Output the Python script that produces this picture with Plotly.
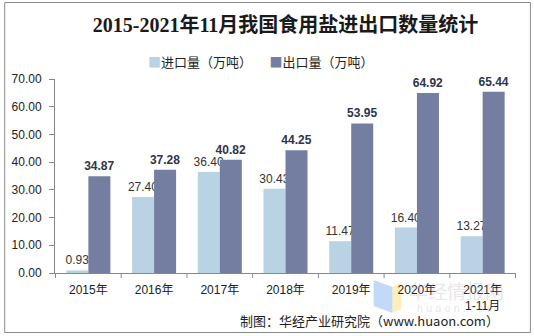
import plotly.graph_objects as go

categories = ["2015年", "2016年", "2017年", "2018年", "2019年", "2020年", "2021年<br>1-11月"]
imports = [0.93, 27.40, 36.40, 30.43, 11.47, 16.40, 13.27]
exports = [34.87, 37.28, 40.82, 44.25, 53.95, 64.92, 65.44]
yticks = [0, 10, 20, 30, 40, 50, 60, 70]
series_names = ["进口量（万吨）", "出口量（万吨）"]
colors = ["#b9d3e5", "#737ea1"]

W, H = 534, 336
L, R, T, B = 53, 18, 79, 63
pw, ph = W - L - R, H - T - B

def px(x):
    return (x - L) / pw

def py(y):
    return (H - B - y) / ph

fig = go.Figure()
fig.add_trace(go.Bar(
    name=series_names[0], x=categories, y=imports,
    marker=dict(color=colors[0], line=dict(width=0)),
    text=[f"{v:.2f}" for v in imports], textposition="outside",
    textfont=dict(family="Arial, Liberation Sans", size=12, color="#333333"),
    cliponaxis=False,
))
fig.add_trace(go.Bar(
    name=series_names[1], x=categories, y=exports,
    marker=dict(color=colors[1], line=dict(width=0)),
    text=[f"<b>{v:.2f}</b>" for v in exports], textposition="outside",
    textfont=dict(family="Arial, Liberation Sans", size=12, color="#2f3449"),
    cliponaxis=False,
))

fig.update_layout(
    width=W, height=H,
    margin=dict(l=L, r=R, t=T, b=B),
    paper_bgcolor="white", plot_bgcolor="white",
    barmode="group", bargap=0.33, bargroupgap=0,
    title=dict(text="<b>2015-2021年11月我国食用盐进出口数量统计</b>",
               x=0.5, xref="paper", xanchor="center", y=1 - 25 / H, yanchor="middle",
               font=dict(family="Liberation Serif, Noto Sans CJK SC", size=20, color="#1a1a1a")),
    showlegend=False,
    font=dict(family="Arial, Liberation Sans", size=12, color="#222222"),
    uniformtext=dict(mode="show", minsize=12),
)
fig.update_xaxes(
    showline=True, linecolor="#888888", linewidth=1,
    ticks="", showgrid=False, ticklabelstandoff=6,
    tickfont=dict(family="Arial, Liberation Sans, Noto Sans CJK SC", size=12, color="#222222"),
)
fig.update_yaxes(
    range=[0, 70], tickvals=yticks, ticktext=[f"{v:.2f}" for v in yticks],
    showline=True, linecolor="#888888", linewidth=1,
    ticks="outside", ticklen=5, tickcolor="#888888", ticklabelstandoff=5,
    showgrid=False, zeroline=False,
    tickfont=dict(family="Arial, Liberation Sans", size=12, color="#222222"),
)

shapes = []
n = len(categories)
for i in range(n + 1):
    xv = i - 0.5
    shapes.append(dict(type="line", xref="x", yref="paper", x0=xv, x1=xv,
                       y0=0, y1=-5 / ph, line=dict(color="#888888", width=1)))
shapes.append(dict(type="rect", xref="paper", yref="paper",
                   x0=px(2.5), x1=px(530.5), y0=py(332.5), y1=py(2.5),
                   line=dict(color="#8c8c8c", width=1), fillcolor="rgba(0,0,0,0)", layer="below"))
shapes.append(dict(type="path", xref="paper", yref="paper",
                   path=f"M {px(373)} {py(280)} L {px(392)} {py(287)} L {px(392)} {py(313)} L {px(373)} {py(306)} Z",
                   fillcolor="rgba(120,170,240,0.45)", line=dict(width=0), layer="below"))
shapes.append(dict(type="path", xref="paper", yref="paper",
                   path=f"M {px(392)} {py(287)} L {px(401)} {py(282)} L {px(401)} {py(309)} L {px(392)} {py(313)} Z",
                   fillcolor="rgba(250,225,130,0.55)", line=dict(width=0), layer="below"))
fig.update_layout(shapes=shapes)

legend_text = (f"<span style='color:{colors[0]}'>■</span>{series_names[0]}"
               f"      <span style='color:{colors[1]}'>■</span>{series_names[1]}")
fig.add_annotation(text=legend_text, xref="paper", yref="paper", x=px(260), y=py(61),
                   showarrow=False, xanchor="center", yanchor="middle",
                   font=dict(family="Noto Sans CJK SC", size=13, color="#222222"))
fig.add_annotation(text="华经情报网", xref="paper", yref="paper", x=px(456), y=py(290),
                   showarrow=False, xanchor="center", yanchor="middle",
                   font=dict(family="Noto Sans CJK SC", size=19, color="rgba(170,170,170,0.3)"))
fig.add_annotation(text="h u a o n . c o m", xref="paper", yref="paper", x=px(456), y=py(308),
                   showarrow=False, xanchor="center", yanchor="middle",
                   font=dict(family="Arial, Liberation Sans", size=11, color="rgba(170,170,170,0.3)"))
fig.add_annotation(text="制图：华经产业研究院（www.huaon.com）", xref="paper", yref="paper",
                   x=px(501), y=py(320), showarrow=False, xanchor="right", yanchor="middle",
                   font=dict(family="Noto Sans CJK SC", size=13, color="#222222"))

fig.write_html("out.html")
